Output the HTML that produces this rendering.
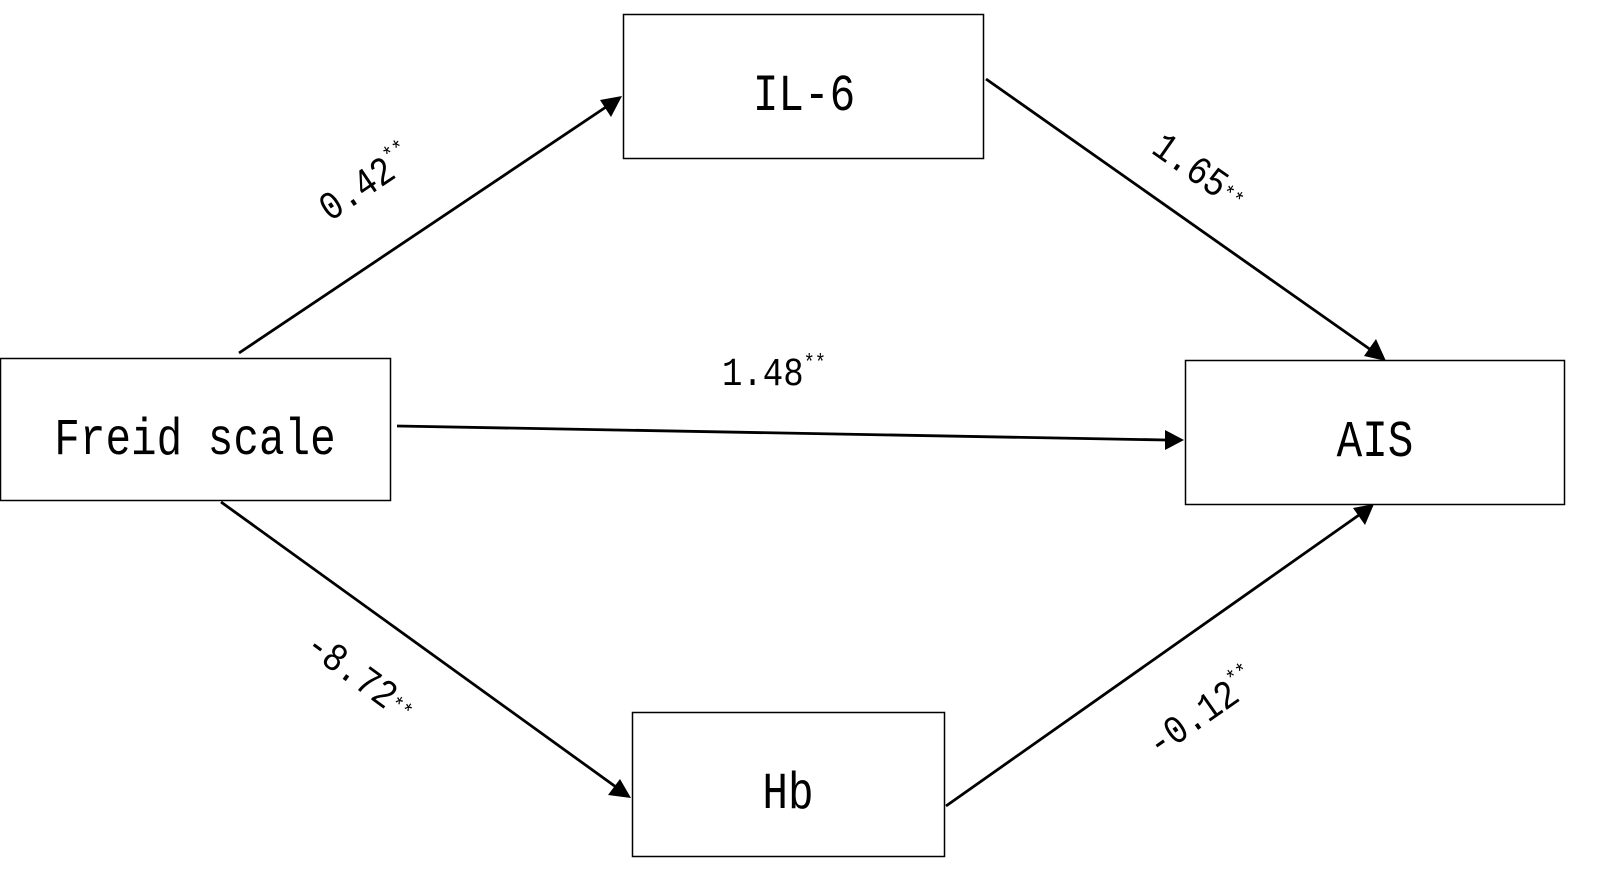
<!DOCTYPE html>
<html><head><meta charset="utf-8">
<style>
html,body{margin:0;padding:0;background:#fff;}
svg{display:block;}
text{font-family:"Liberation Mono","Noto Sans CJK SC",monospace;fill:#000;}
</style></head>
<body>
<svg width="1600" height="879" viewBox="0 0 1600 879" xmlns="http://www.w3.org/2000/svg">
<g fill="none" stroke="#000" stroke-width="1.5">
<rect x="623.5" y="14.5" width="360" height="144"/>
<rect x="0.5" y="358.5" width="390" height="142"/>
<rect x="1185.5" y="360.5" width="379" height="144"/>
<rect x="632.5" y="712.5" width="312" height="144"/>
</g>
<g stroke="#000" stroke-width="2.8" fill="none">
<line x1="239" y1="353" x2="606" y2="107"/>
<line x1="986" y1="79" x2="1371" y2="350"/>
<line x1="397" y1="426" x2="1166" y2="440"/>
<line x1="221" y1="502" x2="616" y2="787"/>
<line x1="946" y1="806" x2="1359" y2="515"/>
</g>
<g fill="#000">
<polygon points="622,96 611,117 600,100"/>
<polygon points="1386,361 1364,356 1376,339"/>
<polygon points="1184,440 1165,450 1165,430"/>
<polygon points="631,798 608,795 620,779"/>
<polygon points="1374,504 1365,525 1353,508"/>
</g>
<g font-size="52" text-anchor="middle" style="font-weight:300">
<text transform="translate(804,110) scale(0.82,1)">IL-6</text>
<text transform="translate(195,454) scale(0.82,1)">Freid scale</text>
<text transform="translate(1375,456) scale(0.82,1)">AIS</text>
<text transform="translate(788,808) scale(0.82,1)">Hb</text>
</g>
<g font-size="40">
<text transform="translate(330,222) rotate(-34) scale(0.85,1)">0.42<tspan font-size="22" dy="-16">**</tspan></text>
<text transform="translate(1150,152) rotate(35) scale(0.85,1)">1.65<tspan font-size="22" dy="-4">**</tspan></text>
<text transform="translate(722,385) scale(0.85,1)">1.48<tspan font-size="22" dy="-16">**</tspan></text>
<text transform="translate(303,650) rotate(36) scale(0.85,1)">-8.72<tspan font-size="22" dy="-4">**</tspan></text>
<text transform="translate(1158,758) rotate(-35) scale(0.85,1)">-0.12<tspan font-size="22" dy="-16">**</tspan></text>
</g>
</svg>
</body></html>
